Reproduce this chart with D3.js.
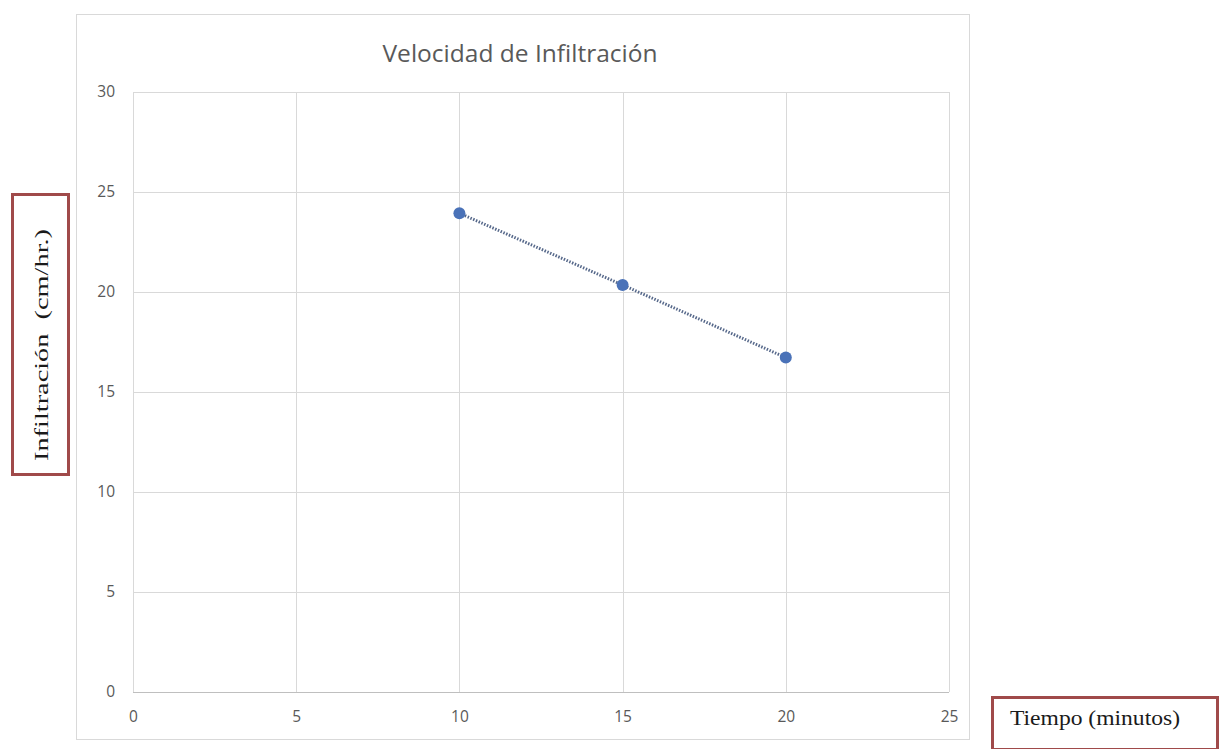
<!DOCTYPE html>
<html>
<head>
<meta charset="utf-8">
<script src="https://cdn.jsdelivr.net/npm/d3@7"></script>
<style>
  html, body { margin: 0; padding: 0; background: #ffffff; }
  svg { display: block; }
</style>
</head>
<body>
<svg id="chart" width="1220" height="749"></svg>
<script>
// Infiltration rate measured over time
const tiempo = [10, 15, 20];
const infiltracion = [23.94, 20.35, 16.72];
const xTicks = [0, 5, 10, 15, 20, 25];
const yTicks = [0, 5, 10, 15, 20, 25, 30];
const titulo = "Velocidad de Infiltración";
const etiquetaY = "Infiltración  (cm/hr.)";
const etiquetaX = "Tiempo (minutos)";

const svg = d3.select("#chart");

// Chart frame
svg.append("rect")
  .attr("x", 76.5).attr("y", 14.5)
  .attr("width", 893).attr("height", 725)
  .attr("fill", "#ffffff")
  .attr("stroke", "#d9d9d9").attr("stroke-width", 1);

const plot = { left: 133, right: 949, top: 92, bottom: 692 };
const x = d3.scaleLinear().domain([0, 25]).range([plot.left, plot.right]);
const y = d3.scaleLinear().domain([0, 30]).range([plot.bottom, plot.top]);

const tickFont = "'Open Sans', 'Liberation Sans', sans-serif";
const serif = "'Liberation Serif', 'Times New Roman', serif";

// Gridlines
const grid = svg.append("g");
grid.selectAll("line.h").data(yTicks).join("line")
  .attr("class", "h")
  .attr("x1", plot.left).attr("x2", plot.right)
  .attr("y1", d => Math.round(y(d)) + 0.5).attr("y2", d => Math.round(y(d)) + 0.5)
  .attr("stroke", "#d9d9d9").attr("stroke-width", 1);
grid.selectAll("line.v").data(xTicks).join("line")
  .attr("class", "v")
  .attr("y1", plot.top).attr("y2", plot.bottom)
  .attr("x1", d => Math.round(x(d)) + 0.5).attr("x2", d => Math.round(x(d)) + 0.5)
  .attr("stroke", "#d9d9d9").attr("stroke-width", 1);

// Axes (labels only; lines come from gridlines)
const xAxis = d3.axisBottom(x).tickValues(xTicks).tickSize(0).tickPadding(19);
const yAxis = d3.axisLeft(y).tickValues(yTicks).tickSize(0).tickPadding(18);

const gx = svg.append("g").attr("transform", `translate(0,${plot.bottom})`).call(xAxis);
const gy = svg.append("g").attr("transform", `translate(${plot.left},0)`).call(yAxis);
[gx, gy].forEach(g => {
  g.select(".domain").remove();
  g.selectAll("text")
    .attr("fill", "#595959")
    .style("font-family", tickFont)
    .style("font-size", "15.5px");
});
// Bottom axis line
svg.append("line")
  .attr("x1", plot.left).attr("x2", plot.right)
  .attr("y1", plot.bottom + 0.5).attr("y2", plot.bottom + 0.5)
  .attr("stroke", "#bfbfbf").attr("stroke-width", 1);

// Title
svg.append("text")
  .attr("x", 520).attr("y", 62)
  .attr("text-anchor", "middle")
  .attr("fill", "#595959")
  .style("font-family", tickFont)
  .style("font-size", "24px")
  .attr("textLength", 275)
  .attr("lengthAdjust", "spacingAndGlyphs")
  .text(titulo);

// Series line (dotted)
const pts = tiempo.map((t, i) => ({ t, v: infiltracion[i] }));
svg.append("path")
  .datum(pts)
  .attr("d", d3.line().x(d => x(d.t)).y(d => y(d.v)))
  .attr("fill", "none")
  .attr("stroke", "#56688a")
  .attr("stroke-width", 3)
  .attr("stroke-dasharray", "1.5,1.5");

// Markers
svg.selectAll("circle.pt").data(pts).join("circle")
  .attr("class", "pt")
  .attr("cx", d => x(d.t)).attr("cy", d => y(d.v))
  .attr("r", 6)
  .attr("fill", "#4a72b8");

// Y axis title box
svg.append("rect")
  .attr("x", 12.5).attr("y", 194.5)
  .attr("width", 56).attr("height", 280)
  .attr("fill", "#ffffff")
  .attr("stroke", "#a04a4a").attr("stroke-width", 3);
svg.append("text")
  .attr("transform", "translate(48,345) rotate(-90)")
  .attr("text-anchor", "middle")
  .attr("fill", "#1a1a1a")
  .style("font-family", serif)
  .style("font-size", "19px")
  .style("white-space", "pre")
  .attr("textLength", 232)
  .attr("lengthAdjust", "spacingAndGlyphs")
  .text(etiquetaY);

// X axis title box
svg.append("rect")
  .attr("x", 992.5).attr("y", 697.5)
  .attr("width", 225).attr("height", 52)
  .attr("fill", "#ffffff")
  .attr("stroke", "#a04a4a").attr("stroke-width", 3);
svg.append("text")
  .attr("x", 1010).attr("y", 725)
  .attr("fill", "#1a1a1a")
  .style("font-family", serif)
  .style("font-size", "20px")
  .attr("textLength", 170)
  .attr("lengthAdjust", "spacingAndGlyphs")
  .text(etiquetaX);
</script>
</body>
</html>
